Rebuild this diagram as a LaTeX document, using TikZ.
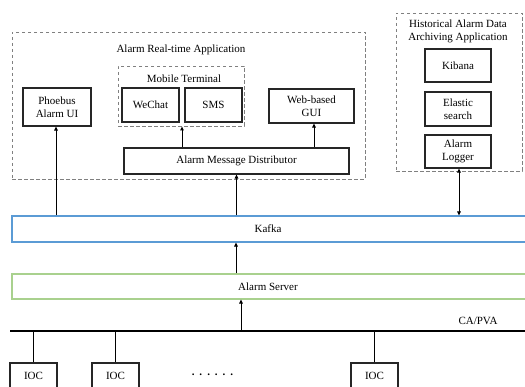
\documentclass[tikz,border=0pt]{standalone}
\usepackage{fontspec}
\setmainfont{Liberation Serif}
\usetikzlibrary{arrows.meta}
\definecolor{dashgray}{RGB}{128,128,128}
\definecolor{kafkablue}{RGB}{91,155,213}
\definecolor{servergreen}{RGB}{169,209,142}
\begin{document}
\begin{tikzpicture}[x=1pt,y=-1pt,
  txt/.style={font=\fontsize{11}{13.5}\selectfont, align=center, inner sep=0pt},
  box/.style={txt, draw=black!85, line width=1.1pt},
  dbox/.style={draw=dashgray, line width=0.9pt, dash pattern=on 3.5pt off 2.5pt, inner sep=0pt},
  arr/.style={line width=0.9pt, -{Triangle[length=4pt,width=3.6pt]}},
  darr/.style={line width=0.9pt, {Triangle[length=4pt,width=3.6pt]}-{Triangle[length=4pt,width=3.6pt]}},
  plain/.style={line width=0.9pt}
]
\useasboundingbox (0,0) rectangle (525,387);
\clip (0,0) rectangle (525,387);
\fill[white] (0,0) rectangle (525,387);

% Alarm real-time application
\node[dbox, minimum width=353pt, minimum height=147pt] (rt) at (188.5,105.5) {};
\node[txt] (rtT) at (181,50) {Alarm Real-time Application};
\node[dbox, minimum width=126pt, minimum height=60pt] (mob) at (181,96) {};
\node[txt] (mobT) at (184,79) {Mobile Terminal};
\node[box, minimum width=57pt, minimum height=34pt] (wechat) at (150.5,105) {WeChat};
\node[box, minimum width=57pt, minimum height=34pt] (sms) at (213.5,105) {SMS};
\node[box, minimum width=68pt, minimum height=38pt] (phoebus) at (57,107) {Phoebus\\Alarm UI};
\node[box, minimum width=85pt, minimum height=34pt] (web) at (311.5,106) {Web-based\\GUI};
\node[box, minimum width=225pt, minimum height=26pt] (amd) at (236.5,161) {Alarm Message Distributor};

% Historical archiving application
\node[dbox, minimum width=126pt, minimum height=158pt] (hist) at (459,92) {};
\node[txt] (histT) at (458,31.5) {Historical Alarm Data\\Archiving Application};
\node[box, minimum width=66pt, minimum height=33pt] (kibana) at (458,65.5) {Kibana};
\node[box, minimum width=66pt, minimum height=34pt] (elastic) at (458,109) {Elastic\\search};
\node[box, minimum width=66pt, minimum height=33pt] (logger) at (458,151.5) {Alarm\\Logger};

% Kafka and Alarm server
\node[draw=kafkablue, line width=1.1pt, minimum width=528pt, minimum height=26pt, inner sep=0pt] (kafka) at (276,229) {};
\node[txt] (kafkaT) at (268,229) {Kafka};
\node[draw=servergreen, line width=1.1pt, minimum width=528pt, minimum height=25pt, inner sep=0pt] (server) at (276,286.5) {};
\node[txt] (serverT) at (268,287) {Alarm Server};

% Bus
\coordinate (busL) at (10,331);
\coordinate (busR) at (530,331);
\draw[line width=1.3pt] (busL) -- (busR);
\node[txt] (capva) at (478,321) {CA/PVA};

% IOCs
\node[box, minimum width=47pt, minimum height=26pt] (ioc1) at (33.5,376) {IOC};
\node[box, minimum width=47pt, minimum height=26pt] (ioc2) at (115.5,376) {IOC};
\node[box, minimum width=47pt, minimum height=26pt] (ioc3) at (374.5,376) {IOC};
\node[txt, font=\bfseries\fontsize{11}{12}\selectfont] (dots) at (212.5,375) {.\hspace{5pt}.\hspace{5pt}.\hspace{5pt}.\hspace{5pt}.\hspace{5pt}.};
\draw[plain] (ioc1.north) -- (ioc1.north |- busL);
\draw[plain] (ioc2.north) -- (ioc2.north |- busL);
\draw[plain] (ioc3.north) -- (ioc3.north |- busL);

% Arrows
\draw[arr] ([xshift=-1pt]phoebus.south |- kafka.north) -- ([xshift=-1pt]phoebus.south);
\draw[arr] (amd.south |- kafka.north) -- (amd.south);
\draw[arr] ([xshift=1pt]mob.south |- amd.north) -- ([xshift=1pt]mob.south);
\draw[arr] ([xshift=2.5pt]web.south |- amd.north) -- ([xshift=2.5pt]web.south);
\draw[darr] ([xshift=1pt]logger.south |- kafka.north) -- ([xshift=1pt]logger.south);
\draw[arr] ([xshift=-40pt]server.north) -- ([xshift=-40pt]kafka.south);
\draw[arr] ([xshift=-35pt]server.south |- busL) -- ([xshift=-35pt]server.south);
\end{tikzpicture}
\end{document}
